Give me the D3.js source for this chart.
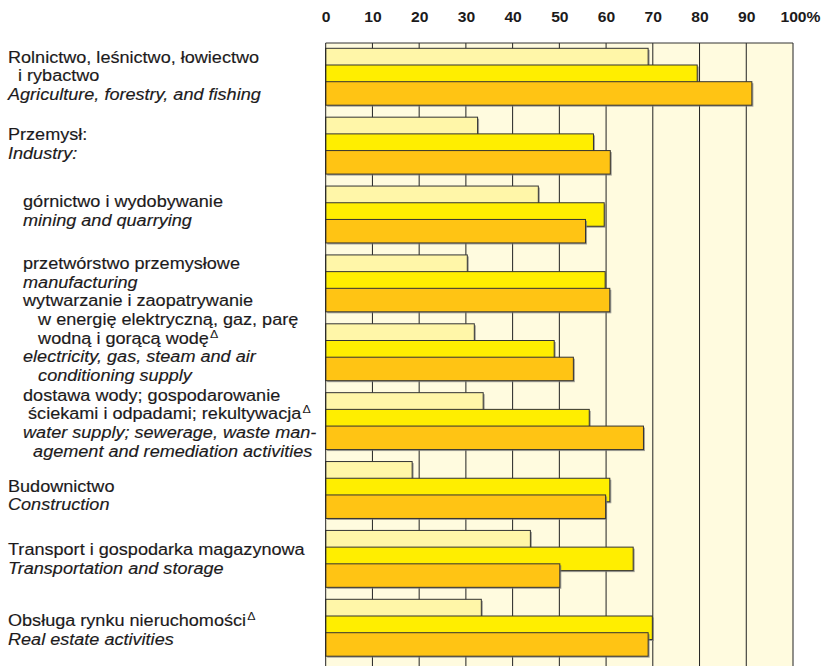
<!DOCTYPE html>
<html lang="pl">
<head>
<meta charset="UTF-8">
<script src="https://d3js.org/d3.v7.min.js"></script>
<title>Udział - bar chart</title>
<style>
  body { margin: 0; background: #fff; }
  svg text { font-family: "Liberation Sans", Arial, Helvetica, sans-serif; fill: #1c1a1b; }
  .lbl { font-size: 16px; white-space: pre; stroke: #1c1a1b; stroke-width: 0.15px; }
  .en { font-style: italic; }
  .axis text { font-size: 14px; font-weight: bold; }
</style>
</head>
<body>
<div id="chart"></div>
<script>
// categories (one bar group each)
var categories = ["agriculture", "industry", "mining", "manufacturing", "electricity",
  "water", "construction", "transport", "realestate"];

var plLabels = [
  ["Rolnictwo, leśnictwo, łowiectwo", "  i rybactwo"],
  ["Przemysł:"],
  ["   górnictwo i wydobywanie"],
  ["   przetwórstwo przemysłowe"],
  ["   wytwarzanie i zaopatrywanie", "      w energię elektryczną, gaz, parę", "      wodną i gorącą wodęΔ"],
  ["   dostawa wody; gospodarowanie", "    ściekami i odpadami; rekultywacjaΔ"],
  ["Budownictwo"],
  ["Transport i gospodarka magazynowa"],
  ["Obsługa rynku nieruchomościΔ"]
];
var enLabels = [
  ["Agriculture, forestry, and fishing"],
  ["Industry:"],
  ["   mining and quarrying"],
  ["   manufacturing"],
  ["   electricity, gas, steam and air", "      conditioning supply"],
  ["   water supply; sewerage, waste man-", "     agement and remediation activities"],
  ["Construction"],
  ["Transportation and storage"],
  ["Real estate activities"]
];

// three series, %
var seriesNames = ["seriesA", "seriesB", "seriesC"];
var seriesA = [69.0, 32.5, 45.5, 30.3, 31.8, 33.7, 18.5, 43.8, 33.3];
var seriesB = [79.5, 57.3, 59.6, 59.8, 48.9, 56.4, 60.8, 65.8, 69.9];
var seriesC = [91.2, 60.9, 55.6, 60.8, 53.0, 68.0, 59.9, 50.1, 69.0];

var tickValues = [0, 10, 20, 30, 40, 50, 60, 70, 80, 90, 100];

// layout
var colors = ["#fff6a8", "#ffee00", "#ffc414"];
var top0 = 43, groupStep = 68.875, barH = 23.5;
var labelTop = [19.7, 28, 26, 19.4, -12.5, 13.3, 35.4, 29.9, 32];
var lineH = 18.8, stretch = 1.13;

var svg = d3.select("#chart").append("svg")
    .attr("width", 823)
    .attr("height", 666);

var x = d3.scaleLinear().domain([0, 100]).range([325.7, 793]);
var y = d3.scaleBand().domain(categories).range([top0, top0 + categories.length * groupStep]);
var ySub = d3.scaleBand().domain(seriesNames).range([5.3, 5.3 + 3 * 16.7]);

// plot background
svg.append("rect")
    .attr("x", x(0))
    .attr("y", top0)
    .attr("width", x(100) - x(0))
    .attr("height", 700)
    .attr("fill", "#fffbdf");

// grid
svg.selectAll(".grid")
    .data(tickValues.slice(1))
  .enter().append("line")
    .attr("class", "grid")
    .attr("x1", function(d) { return x(d); })
    .attr("x2", function(d) { return x(d); })
    .attr("y1", top0)
    .attr("y2", 700)
    .attr("stroke", "#222");

svg.append("line")
    .attr("x1", x(0)).attr("x2", x(100))
    .attr("y1", top0).attr("y2", top0)
    .attr("stroke", "#333");

// bars
var allSeries = [seriesA, seriesB, seriesC];
allSeries.forEach(function(vals, s) {
  var g = svg.append("g").attr("class", "series");
  var rows = vals.map(function(v, i) { return {cat: categories[i], v: v}; });

  g.selectAll(".shadow")
      .data(rows)
    .enter().append("rect")
      .attr("class", "shadow")
      .attr("x", x(0) + 1.5)
      .attr("y", function(d) { return y(d.cat) + ySub(seriesNames[s]) + 1.5; })
      .attr("width", function(d) { return x(d.v) - x(0); })
      .attr("height", barH)
      .attr("fill", "#7a7a7a")
      .attr("opacity", 0.7);

  g.selectAll(".bar")
      .data(rows)
    .enter().append("rect")
      .attr("class", "bar")
      .attr("x", x(0))
      .attr("y", function(d) { return y(d.cat) + ySub(seriesNames[s]); })
      .attr("width", function(d) { return x(d.v) - x(0); })
      .attr("height", barH)
      .attr("fill", colors[s])
      .attr("stroke", "#333")
      .attr("stroke-width", 1);
});

svg.append("line")
    .attr("x1", x(0)).attr("x2", x(0))
    .attr("y1", top0).attr("y2", 700)
    .attr("stroke", "#222");

// top axis
var xAxis = d3.axisTop(x)
    .tickValues(tickValues)
    .tickSize(0)
    .tickPadding(0)
    .tickFormat(function(d) { return d; });

var ax = svg.append("g")
    .attr("class", "axis")
    .attr("transform", "translate(0,22)")
    .call(xAxis);
ax.select(".domain").remove();
ax.selectAll("text").attr("transform", "scale(1.12,1)");
ax.selectAll("text").filter(function(d) { return d === 100; })
    .each(function() {
      var t = d3.select(this);
      var w = this.getComputedTextLength();
      t.attr("text-anchor", "start").attr("x", -w / 2);
      t.append("tspan").text("%");
    });

// labels on the left
var lbl = svg.append("g").attr("transform", "scale(" + stretch + ",1)");
categories.forEach(function(cat, i) {
  var lines = plLabels[i].map(function(t) { return {t: t, en: false}; })
    .concat(enLabels[i].map(function(t) { return {t: t, en: true}; }));
  lines.forEach(function(l, j) {
    var txt = lbl.append("text")
        .attr("class", l.en ? "lbl en" : "lbl")
        .attr("x", 8 / stretch)
        .attr("y", y(cat) + labelTop[i] + j * lineH);
    var parts = l.t.split("Δ");
    txt.append("tspan").text(parts[0]);
    if (parts.length > 1) {
      txt.append("tspan")
          .attr("dx", 1)
          .attr("dy", -6)
          .style("font-size", "11px")
          .style("stroke-width", "0px")
          .text("Δ");
    }
  });
});
</script>
</body>
</html>
